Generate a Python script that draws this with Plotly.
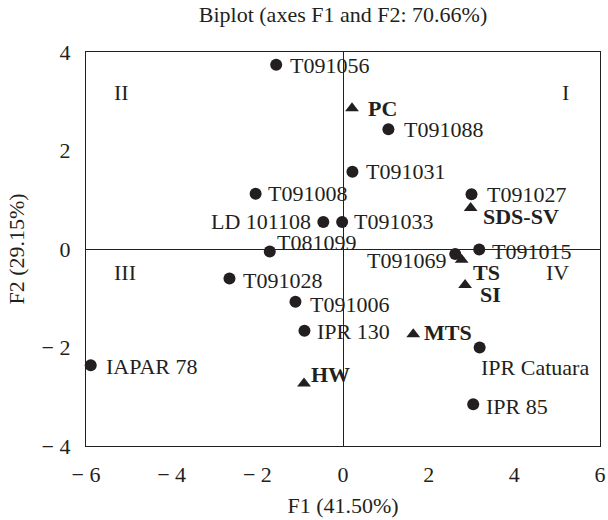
import plotly.graph_objects as go

# Genotypes (circles)
genotypes = ["T091056", "T091088", "T091031", "T091008", "LD 101108", "T091033",
             "T081099", "T091027", "T091015", "T091069", "T091028", "T091006",
             "IPR 130", "IPR Catuara", "IAPAR 78", "IPR 85"]
geno_f1 = [-1.56, 1.06, 0.22, -2.04, -0.46, -0.02, -1.71, 3.00, 3.18, 2.62, -2.65, -1.11,
           -0.90, 3.19, -5.89, 3.04]
geno_f2 = [3.74, 2.43, 1.57, 1.12, 0.55, 0.55, -0.05, 1.11, -0.01, -0.10, -0.60, -1.07,
           -1.66, -2.00, -2.36, -3.15]

# Traits (triangles)
traits = ["PC", "SDS-SV", "TS", "SI", "MTS", "HW"]
trait_f1 = [0.21, 2.98, 2.77, 2.85, 1.64, -0.91]
trait_f2 = [2.86, 0.83, -0.22, -0.73, -1.73, -2.73]

title_text = "Biplot (axes F1 and F2: 70.66%)"
x_title = "F1 (41.50%)"
y_title = "F2 (29.15%)"
x_ticks = [-6, -4, -2, 0, 2, 4, 6]
x_ticklabels = ["\u2212 6", "\u2212 4", "\u2212 2", "0", "2", "4", "6"]
y_ticks = [-4, -2, 0, 2, 4]
y_ticklabels = ["\u2212 4", "\u2212 2", "0", "2", "4"]
quadrants = ["II", "I", "III", "IV"]

INK = "#231f20"
FONT = "Liberation Serif"
FS = 22

# label placement styles: (anchor, x offset px, y offset px downward)
geno_style = [("left", 12, 1), ("left", 14, 0), ("left", 12, 0), ("left", 10, 0),
              ("right", -10, 0), ("left", 10, 0), ("left", 5, -9), ("left", 13, 0),
              ("left", 11, 2), ("right", -7, 7), ("left", 12, 2), ("left", 13, 3),
              ("left", 11, 1), ("left", -1, 20), ("left", 13, 1), ("left", 11, 2)]
trait_style = [("left", 14, 0), ("left", 10, 8), ("left", 9, 13), ("left", 13, 10),
               ("left", 9, -2), ("left", 5, -9)]

fig = go.Figure()
fig.add_trace(go.Scatter(
    x=geno_f1, y=geno_f2, mode="markers",
    marker=dict(symbol="circle", size=12, color=INK, line=dict(width=0)),
    cliponaxis=False, showlegend=False, hoverinfo="skip"))
fig.add_trace(go.Scatter(
    x=trait_f1, y=trait_f2, mode="markers",
    marker=dict(symbol="triangle-up", size=12, color=INK, line=dict(width=0)),
    cliponaxis=False, showlegend=False, hoverinfo="skip"))

for name, fx, fy, (anc, dx, dy) in zip(genotypes, geno_f1, geno_f2, geno_style):
    fig.add_annotation(x=fx, y=fy, text=name, showarrow=False, xanchor=anc,
                       yanchor="middle", xshift=dx, yshift=-dy,
                       font=dict(family=FONT, size=FS, color=INK))
for name, fx, fy, (anc, dx, dy) in zip(traits, trait_f1, trait_f2, trait_style):
    fig.add_annotation(x=fx, y=fy, text="<b>%s</b>" % name, showarrow=False, xanchor=anc,
                       yanchor="middle", xshift=dx, yshift=-dy,
                       font=dict(family=FONT, size=FS, color=INK))

q_pos = [(0.05, 0.934), (0.943, 0.934), (0.05, 0.44), (0.943, 0.44)]
for q, (qx, qy) in zip(quadrants, q_pos):
    fig.add_annotation(x=qx, y=qy, xref="x domain", yref="y domain", text=q,
                       showarrow=False, font=dict(family=FONT, size=FS, color=INK))

fig.update_layout(
    width=608, height=520,
    margin=dict(l=86, r=8, t=52, b=74),
    paper_bgcolor="white", plot_bgcolor="white",
    font=dict(family=FONT, size=FS, color=INK),
    title=dict(text=title_text, x=343 / 608, xanchor="center", y=1 - 14 / 520,
               yanchor="middle", font=dict(family=FONT, size=FS, color=INK)),
)
fig.update_xaxes(range=[-6, 6], tickvals=x_ticks, ticktext=x_ticklabels,
                 showgrid=False, zeroline=True, zerolinecolor=INK, zerolinewidth=1.3,
                 showline=True, linecolor=INK, linewidth=1.3, mirror=True,
                 ticks="", ticklabelstandoff=8, automargin=False,
                 title=dict(text=x_title, standoff=12, font=dict(family=FONT, size=FS, color=INK)))
fig.update_yaxes(range=[-4, 4], tickvals=y_ticks, ticktext=y_ticklabels,
                 showgrid=False, zeroline=True, zerolinecolor=INK, zerolinewidth=1.3,
                 showline=True, linecolor=INK, linewidth=1.3, mirror=True,
                 ticks="", ticklabelstandoff=10, automargin=False,
                 title=dict(text=y_title, standoff=10, font=dict(family=FONT, size=FS, color=INK)))

fig.write_html("out.html", config={"displayModeBar": False},
               post_script="document.body.style.margin='0';document.body.style.overflow='hidden';")
